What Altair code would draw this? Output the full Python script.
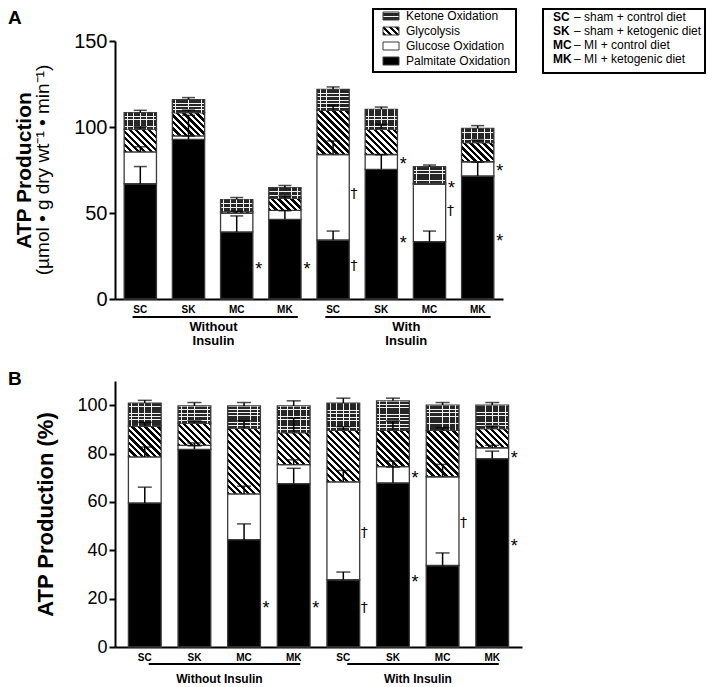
import altair as alt

FONT = "Liberation Sans"

# ---------------- data ----------------
ids = ["SC_w", "SK_w", "MC_w", "MK_w", "SC_i", "SK_i", "MC_i", "MK_i"]
components = ["Palmitate Oxidation", "Glucose Oxidation", "Glycolysis", "Ketone Oxidation"]
group_codes = ["SC", "SK", "MC", "MK"]
group_desc = ["sham + control diet", "sham + ketogenic diet", "MI + control diet", "MI + ketogenic diet"]
cond_labels_a = ["Without\nInsulin", "With\nInsulin"]
cond_labels_b = ["Without Insulin", "With Insulin"]

# Panel A: ATP production (umol/g dry wt/min), segment sizes
a_palm = [67.0, 92.8, 39.0, 46.3, 34.3, 75.4, 33.3, 71.5]
a_gluc = [18.5, 2.0, 11.0, 5.2, 49.7, 8.6, 33.4, 8.3]
a_glyc = [13.2, 13.5, 1.0, 7.0, 25.7, 14.6, 0.6, 11.1]
a_ket = [9.6, 7.6, 6.8, 6.2, 12.2, 11.7, 9.6, 8.3]
a_palm_err = [10.0, 2.0, 9.3, 5.0, 5.2, 8.5, 6.2, 8.0]
a_gluc_err = [3.0, 12.0, 1.0, 0.0, 7.9, 0.0, 0.0, 0.0]
a_glyc_err = [1.5, 1.5, 0.0, 1.5, 3.0, 3.0, 0.0, 1.5]
a_ket_err = [1.4, 1.2, 1.2, 1.3, 1.4, 1.3, 1.0, 1.6]
a_note_ids = ["MC_w", "MK_w", "SC_i", "SC_i", "SK_i", "SK_i", "MC_i", "MC_i", "MK_i", "MK_i"]
a_note_sym = ["*", "*", "†", "†", "*", "*", "*", "†", "*", "*"]
a_note_y = [20, 20, 61, 19, 80.6, 34.7, 67, 51, 77, 36]

# Panel B: ATP production (%), segment sizes
b_palm = [59.6, 81.7, 44.4, 67.6, 27.8, 67.9, 33.7, 77.9]
b_gluc = [19.0, 1.7, 18.9, 7.8, 40.5, 6.7, 36.7, 4.5]
b_glyc = [12.8, 9.1, 27.2, 13.3, 21.3, 15.0, 19.2, 7.9]
b_ket = [9.4, 7.2, 9.2, 11.0, 11.2, 12.2, 10.4, 9.7]
b_palm_err = [6.5, 1.5, 6.5, 6.3, 3.2, 6.5, 5.2, 3.1]
b_gluc_err = [4.1, 1.0, 3.2, 2.0, 4.7, 2.3, 5.1, 1.0]
b_glyc_err = [1.5, 1.0, 3.0, 6.0, 1.5, 3.9, 1.1, 1.1]
b_ket_err = [1.2, 1.4, 1.4, 2.1, 2.1, 1.1, 1.1, 1.1]
b_note_ids = ["MC_w", "MK_w", "SC_i", "SC_i", "SK_i", "SK_i", "MC_i", "MK_i", "MK_i"]
b_note_sym = ["*", "*", "†", "†", "*", "*", "†", "*", "*"]
b_note_y = [17.7, 17.7, 47.2, 16, 71.4, 28.5, 51.3, 80, 43.3]


# ---------------- pattern helpers (styling) ----------------
def hatch(w, h, period=6.5, frac=0.5):
    h = max(h, 0.5)
    s = (w + h) / (w * w + h * h)
    n = (w + h) / period
    stops = []
    k = 0
    while k < n:
        a = k / n
        b = min((k + frac) / n, 1.0)
        c = min((k + 1) / n, 1.0)
        stops += [
            {"offset": round(a, 4), "color": "black"},
            {"offset": round(b, 4), "color": "black"},
            {"offset": round(b, 4), "color": "white"},
            {"offset": round(c, 4), "color": "white"},
        ]
        k += 1
    return {"gradient": "linear", "x1": 0, "y1": 1, "x2": round(w * s, 4),
            "y2": round(1 - h * s, 4), "stops": stops}


BRICK = "#262626"


def brick_rows(h, row=3.4, mortar=0.75):
    h = max(h, 0.5)
    n = max(1, round(h / row))
    m = min(mortar / h, 0.35 / n)
    stops = []
    for k in range(n):
        a = k / n
        b = a + m
        c = (k + 1) / n
        stops += [
            {"offset": round(a, 4), "color": "#f2f2f2"},
            {"offset": round(b, 4), "color": "#f2f2f2"},
            {"offset": round(b, 4), "color": BRICK},
            {"offset": round(c, 4), "color": BRICK},
        ]
    return {"gradient": "linear", "x1": 0, "y1": 0, "x2": 0, "y2": 1, "stops": stops}


def brick_joints(w, brick=6.5, mortar=0.75):
    n = max(1, round(w / brick))
    m = mortar / w
    clear = "rgba(255,255,255,0)"
    stops = []
    for k in range(n):
        a = (k + 0.5) / n
        stops += [
            {"offset": round(a - m / 2, 4), "color": clear},
            {"offset": round(a - m / 2, 4), "color": "#f2f2f2"},
            {"offset": round(a + m / 2, 4), "color": "#f2f2f2"},
            {"offset": round(a + m / 2, 4), "color": clear},
        ]
    return {"gradient": "linear", "x1": 0, "y1": 0, "x2": 1, "y2": 0, "stops": stops}


def comp_fill(c, w, h):
    if c == 0:
        return "black"
    if c == 1:
        return "white"
    if c == 2:
        return hatch(w, h)
    return brick_rows(h)


def one(t=""):
    return alt.Data(values=[{"t": t}])


def make_panel(letter, letter_y, vals, errs, note_ids, note_sym, note_y, ymax, ticks,
               width, height, label_size, title, title_x, title_size, cond_labels,
               cond_font, cond_y, rule_y, pin, pout, bp0, bp1, cap, subtitle=None,
               sub_x=0, legend=False):
    n = len(ids)
    step = width / (n - pin + 2 * pout)
    bw = step * (1 - pin)
    ppu = height / ymax

    bars, joints, erecs = [], [], []
    for i, bid in enumerate(ids):
        base = 0.0
        for c, comp in enumerate(components):
            v = vals[c][i]
            top = base + v
            h = v * ppu
            bars.append({"id": bid, "comp": comp, "y0": base, "y1": top,
                         "fill": comp_fill(c, bw, h)})
            if c == 3:
                joints.append({"id": bid, "y0": base, "y1": top, "fill": brick_joints(bw)})
            e = errs[c][i]
            if e > 0:
                erecs.append({"id": bid, "top": top, "etop": top + e})
            base = top

    stars = [{"id": a, "sym": s, "y": y} for a, s, y in zip(note_ids, note_sym, note_y) if s == "*"]
    daggers = [{"id": a, "sym": s, "y": y} for a, s, y in zip(note_ids, note_sym, note_y) if s != "*"]
    conds = [
        {"start": ids[0], "end": ids[3], "mid": ids[1], "label": cond_labels[0]},
        {"start": ids[4], "end": ids[7], "mid": ids[5], "label": cond_labels[1]},
    ]

    xscale = alt.Scale(domain=ids, paddingInner=pin, paddingOuter=pout)
    xaxis = alt.Axis(labelExpr="slice(datum.label, 0, 2)", labelAngle=0, ticks=False,
                     labelFontSize=10, labelFontWeight="bold", labelColor="black",
                     labelPadding=5, domainColor="black", domainWidth=2, title=None)
    yaxis = alt.Axis(values=ticks, labelFontSize=label_size, labelColor="black",
                     labelPadding=2, tickSize=6, tickWidth=2, tickColor="black",
                     domainColor="black", domainWidth=2, grid=False, title=title,
                     titleFontSize=title_size, titleFontWeight="bold", titleColor="black",
                     titleX=title_x, titleY=height / 2, titleAngle=270,
                     titleAlign="center", titleBaseline="middle")

    bar_layer = alt.Chart(alt.Data(values=bars)).mark_bar(
        stroke="#3a3a3a", strokeWidth=1.3
    ).encode(
        x=alt.X("id:N", scale=xscale, axis=xaxis, title=None),
        y=alt.Y("y1:Q", scale=alt.Scale(domain=[0, ymax], nice=False), axis=yaxis),
        y2="y0:Q",
        fill=alt.Fill("fill:N", scale=None),
    )
    joint_layer = alt.Chart(alt.Data(values=joints)).mark_bar(strokeWidth=0).encode(
        x="id:N", y="y1:Q", y2="y0:Q", fill=alt.Fill("fill:N", scale=None)
    )
    err_rule = alt.Chart(alt.Data(values=erecs)).mark_rule(
        color="black", strokeWidth=1.5
    ).encode(x="id:N", y="top:Q", y2="etop:Q")
    err_cap = alt.Chart(alt.Data(values=erecs)).mark_tick(
        color="black", thickness=1.5, size=cap
    ).encode(x="id:N", y="etop:Q")
    star_layer = alt.Chart(alt.Data(values=stars)).mark_text(
        dx=22, dy=5, align="center", baseline="middle", fontSize=18, color="black"
    ).encode(x="id:N", y="y:Q", text="sym:N")
    dagger_layer = alt.Chart(alt.Data(values=daggers)).mark_text(
        dx=21, align="center", baseline="middle", fontSize=14, color="black",
        font="DejaVu Sans"
    ).encode(x="id:N", y="y:Q", text="sym:N")
    rule_layer = alt.Chart(alt.Data(values=conds)).mark_rule(
        color="black", strokeWidth=2
    ).encode(
        x=alt.X("start:N", bandPosition=bp0),
        x2=alt.X2("end:N", bandPosition=bp1),
        y=alt.value(height + rule_y),
    )
    cond_layer = alt.Chart(alt.Data(values=conds)).mark_text(
        dx=25, align="center", baseline="top", fontSize=cond_font, fontWeight="bold",
        lineBreak="\n", lineHeight=14, color="black"
    ).encode(x="mid:N", y=alt.value(height + cond_y), text="label:N")
    letter_layer = alt.Chart(one(letter)).mark_text(
        align="left", baseline="alphabetic", fontSize=19, fontWeight="bold", color="black"
    ).encode(x=alt.value(-107), y=alt.value(letter_y), text="t:N")

    layers = [bar_layer, joint_layer, err_rule, err_cap, star_layer, dagger_layer,
              rule_layer, cond_layer, letter_layer]

    if subtitle:
        layers.append(alt.Chart(one(subtitle)).mark_text(
            angle=270, align="center", baseline="middle", fontSize=19, color="black"
        ).encode(x=alt.value(sub_x), y=alt.value(height / 2), text="t:N"))

    if legend:
        # legend box 1: energy substrates
        layers.append(alt.Chart(one()).mark_rect(
            fill="white", stroke="black", strokeWidth=2
        ).encode(x=alt.value(258), x2=alt.value(401), y=alt.value(-32), y2=alt.value(31)))
        rows = [-25, -10, 5, 20]
        order = [3, 2, 1, 0]
        sw, sh = 16, 8
        for r, c in zip(rows, order):
            layers.append(alt.Chart(one(components[c])).mark_rect(
                fill=comp_fill(c, sw, sh), stroke="#3a3a3a", strokeWidth=1
            ).encode(x=alt.value(268), x2=alt.value(268 + sw),
                     y=alt.value(r - sh / 2), y2=alt.value(r + sh / 2)))
            if c == 3:
                layers.append(alt.Chart(one()).mark_rect(
                    fill=brick_joints(sw), strokeWidth=0
                ).encode(x=alt.value(268), x2=alt.value(268 + sw),
                         y=alt.value(r - sh / 2), y2=alt.value(r + sh / 2)))
            layers.append(alt.Chart(one(components[c])).mark_text(
                align="left", baseline="middle", fontSize=12, color="black"
            ).encode(x=alt.value(291), y=alt.value(r), text="t:N"))
        # legend box 2: group codes
        layers.append(alt.Chart(one()).mark_rect(
            fill="white", stroke="black", strokeWidth=2
        ).encode(x=alt.value(428), x2=alt.value(590), y=alt.value(-32), y2=alt.value(32)))
        rows2 = [-24, -10, 4, 18]
        for r, code, desc in zip(rows2, group_codes, group_desc):
            layers.append(alt.Chart(one(code)).mark_text(
                align="left", baseline="middle", fontSize=12, fontWeight="bold", color="black"
            ).encode(x=alt.value(438), y=alt.value(r), text="t:N"))
            layers.append(alt.Chart(one("– " + desc)).mark_text(
                align="left", baseline="middle", fontSize=12, color="black"
            ).encode(x=alt.value(459), y=alt.value(r), text="t:N"))

    return alt.layer(*layers).properties(width=width, height=height)


panel_a = make_panel(
    "A", -17,
    [a_palm, a_gluc, a_glyc, a_ket], [a_palm_err, a_gluc_err, a_glyc_err, a_ket_err],
    a_note_ids, a_note_sym, a_note_y,
    ymax=150, ticks=[0, 50, 100, 150], width=388, height=258, label_size=20,
    title="ATP Production", title_x=-91, title_size=21,
    cond_labels=cond_labels_a, cond_font=13, cond_y=22, rule_y=18,
    pin=0.33, pout=0.19, bp0=0.26, bp1=0.9, cap=13,
    subtitle="(µmol • g dry wt⁻¹ • min⁻¹)", sub_x=-72, legend=True,
)

panel_b = make_panel(
    "B", 4,
    [b_palm, b_gluc, b_glyc, b_ket], [b_palm_err, b_gluc_err, b_glyc_err, b_ket_err],
    b_note_ids, b_note_sym, b_note_y,
    ymax=110, ticks=[0, 20, 40, 60, 80, 100], width=407, height=266, label_size=18,
    title="ATP Production (%)", title_x=-70, title_size=22,
    cond_labels=cond_labels_b, cond_font=12, cond_y=27, rule_y=17,
    pin=0.34, pout=0.27, bp0=0.62, bp1=0.7, cap=14,
)

chart = alt.vconcat(panel_a, panel_b, spacing=22).properties(
    padding=0
).configure(font=FONT).configure_view(stroke=None)

chart.save("out.html", embed_options={"renderer": "svg", "actions": False})
